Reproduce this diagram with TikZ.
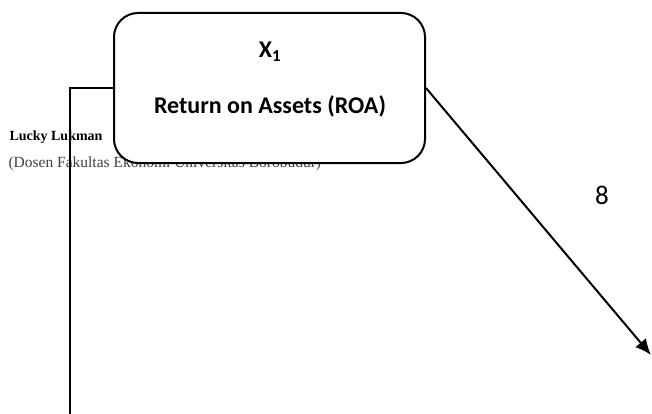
\documentclass[tikz,border=0pt]{standalone}
\usepackage{fontspec}
\setmainfont{Liberation Serif}
\newfontfamily\boxfont{Carlito}
\usetikzlibrary{arrows.meta, positioning}

\tikzset{
  varbox/.style={draw, line width=2pt, rounded corners=24pt, fill=white,
                 minimum width=311pt, minimum height=150pt},
  boxtext/.style={font=\boxfont\bfseries\fontsize{24}{28}\selectfont},
  conn/.style={line width=2pt},
  weight/.style={font=\boxfont\fontsize{27}{30}\selectfont}
}

\begin{document}
\begin{tikzpicture}[x=1pt, y=-1pt]
\useasboundingbox (0,0) rectangle (652,414);
%
\node[anchor=west, font=\fontsize{14}{16}\selectfont\bfseries] (author) at (6,137) {Lucky Lukman};
\node[anchor=west, text=black!75, font=\fontsize{15.5}{17}\selectfont] (inst) at (5,164) {(Dosen Fakultas Ekonomi Universitas Borobudur)};

\node[varbox] (roa) at (269.5,88) {};
\node[boxtext] (x1) at (270,52) {X\textsubscript{1}};
\node[boxtext] (name) at (270,106) {Return on Assets (ROA)};

\coordinate (bend) at (70,88);
\coordinate (down) at (70,414);
\coordinate (tip) at (651,355);

\draw[conn] (roa.west) -- (bend) -- (down);
\draw[conn, -{Latex[length=16pt, width=14pt]}] (roa.east) -- (tip);

\node[weight] (w) at (602,195) {8};
%
\end{tikzpicture}
\end{document}
